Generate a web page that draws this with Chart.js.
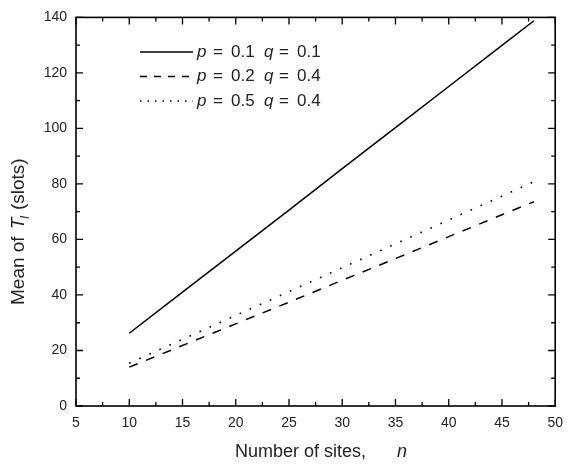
<!DOCTYPE html>
<html lang="en">
<head>
    <meta charset="UTF-8">
    <title>Mean of T_l vs number of sites</title>
    <style>
        body { margin: 0; background: #fff; }
        #wrap { width: 572px; height: 464px; }
    </style>
</head>
<body>
    <div id="wrap"><canvas id="meanChart" width="572" height="464"></canvas></div>
    <script src="https://cdn.jsdelivr.net/npm/chart.js"></script>
    <script>
        // values
        const nSites = [10, 15, 20, 25, 30, 35, 40, 45, 48];
        const meanP1Q1 = [26.2, 41.0, 55.8, 70.6, 85.5, 100.3, 115.1, 129.9, 138.8];
        const meanP2Q4 = [14.0, 21.8, 29.6, 37.4, 45.3, 53.1, 61.0, 68.9, 73.6];
        const meanP5Q4 = [15.4, 24.0, 32.6, 41.2, 49.8, 58.4, 67.0, 75.6, 80.8];
        const legendRows = [
            { p: '0.1', q: '0.1' },
            { p: '0.2', q: '0.4' },
            { p: '0.5', q: '0.4' }
        ];

        const ink = '#000';
        const textCol = '#222';
        const font = '"Liberation Sans", Arial, sans-serif';

        const toPts = ys => nSites.map((n, i) => ({ x: n, y: ys[i] }));

        const chartDecor = {
            id: 'chartDecor',
            afterDraw(chart) {
                const { ctx, chartArea: a, scales: { x, y } } = chart;
                ctx.save();
                // frame
                ctx.strokeStyle = ink;
                ctx.lineWidth = 1.6;
                ctx.strokeRect(a.left, a.top, a.right - a.left, a.bottom - a.top);
                // inward ticks on all four sides
                ctx.lineWidth = 1.3;
                ctx.beginPath();
                for (let v = 5; v <= 50; v += 2.5) {
                    const px = x.getPixelForValue(v);
                    const len = (v % 5 === 0) ? 7 : 4;
                    ctx.moveTo(px, a.bottom); ctx.lineTo(px, a.bottom - len);
                    ctx.moveTo(px, a.top); ctx.lineTo(px, a.top + len);
                }
                for (let v = 0; v <= 140; v += 10) {
                    const py = y.getPixelForValue(v);
                    const len = (v % 20 === 0) ? 7 : 4;
                    ctx.moveTo(a.left, py); ctx.lineTo(a.left + len, py);
                    ctx.moveTo(a.right, py); ctx.lineTo(a.right - len, py);
                }
                ctx.stroke();

                // legend
                const dashes = [[], [7, 7], [1.5, 6]];
                ctx.fillStyle = textCol;
                ctx.textBaseline = 'middle';
                legendRows.forEach((row, i) => {
                    const ly = 52 + i * 24.5;
                    ctx.strokeStyle = ink;
                    ctx.lineWidth = 1.5;
                    ctx.setLineDash(dashes[i]);
                    ctx.beginPath();
                    ctx.moveTo(140, ly); ctx.lineTo(193, ly);
                    ctx.stroke();
                    ctx.setLineDash([]);
                    ctx.font = 'italic 17px ' + font;
                    ctx.fillText('p', 197, ly);
                    ctx.fillText('q', 264, ly);
                    ctx.font = '17px ' + font;
                    ctx.fillText('=', 213, ly);
                    ctx.fillText(row.p, 231, ly);
                    ctx.fillText('=', 279, ly);
                    ctx.fillText(row.q, 297, ly);
                });

                // x title
                ctx.textBaseline = 'alphabetic';
                ctx.font = '18px ' + font;
                ctx.fillText('Number of sites,', 235, 457);
                ctx.font = 'italic 18px ' + font;
                ctx.fillText('n', 397, 457);

                // y title, rotated (local x = -page y)
                ctx.translate(24, 0);
                ctx.rotate(-Math.PI / 2);
                let cx = -305;
                ctx.font = '19px ' + font;
                ctx.fillText('Mean of', cx, 0);
                cx += ctx.measureText('Mean of').width + 7;
                ctx.font = 'italic 19px ' + font;
                ctx.fillText('T', cx, 0);
                cx += ctx.measureText('T').width - 1;
                ctx.font = 'italic 12px ' + font;
                ctx.fillText('l', cx, 5);
                cx += ctx.measureText('l').width + 6;
                ctx.font = '19px ' + font;
                ctx.fillText('(slots)', cx, 0);
                ctx.restore();
            }
        };

        new Chart(document.getElementById('meanChart').getContext('2d'), {
            type: 'line',
            data: {
                datasets: [
                    { label: 'p = 0.1 q = 0.1', data: toPts(meanP1Q1), borderColor: ink, borderWidth: 1.5 },
                    { label: 'p = 0.2 q = 0.4', data: toPts(meanP2Q4), borderColor: ink, borderWidth: 1.5, borderDash: [9, 9] },
                    { label: 'p = 0.5 q = 0.4', data: toPts(meanP5Q4), borderColor: ink, borderWidth: 1.6, borderDash: [1.6, 9.4] }
                ]
            },
            options: {
                responsive: false,
                animation: false,
                elements: { point: { radius: 0 }, line: { tension: 0, fill: false } },
                layout: { padding: { top: 12, right: 8, left: 0, bottom: 0 } },
                plugins: { legend: { display: false }, tooltip: { enabled: false } },
                scales: {
                    x: {
                        type: 'linear', min: 5, max: 50,
                        grid: { display: false, drawTicks: false },
                        border: { display: false },
                        ticks: { stepSize: 5, color: textCol, font: { family: font, size: 14 }, padding: 9, maxRotation: 0 },
                        afterFit: s => { s.height = 58; }
                    },
                    y: {
                        min: 0, max: 140,
                        grid: { display: false, drawTicks: false },
                        border: { display: false },
                        ticks: { stepSize: 20, color: textCol, font: { family: font, size: 14 }, padding: 9 },
                        afterFit: s => { s.width = 76; }
                    }
                }
            },
            plugins: [chartDecor]
        });
    </script>
</body>
</html>
